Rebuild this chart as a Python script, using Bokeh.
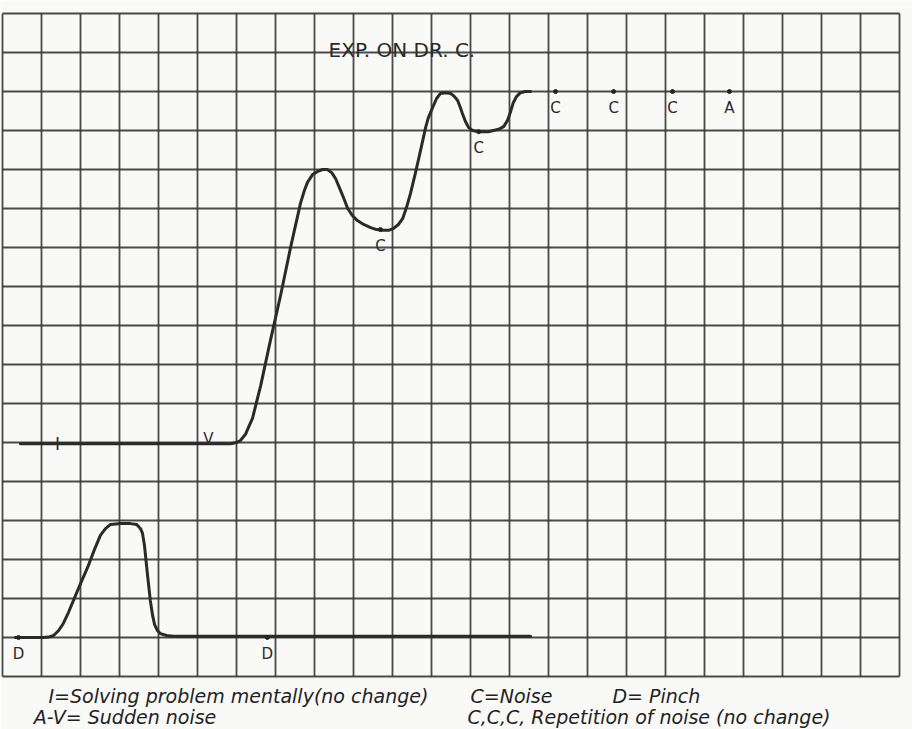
from bokeh.plotting import figure
from bokeh.models import ColumnDataSource, Range1d
from bokeh.core.properties import value
from bokeh.embed import file_html
from bokeh.resources import INLINE

# ---------------- data (grid units: 1 unit = one square of the graph paper) -------------
n_cols = 23
n_rows = 17

# upper record: I (solving problem), A-V (sudden noise), C dips, C,C,C repetitions
upper_x = [0.46, 5.85, 6.00, 6.10, 6.23, 6.33, 6.41, 6.62, 6.87, 7.13, 7.38, 7.64, 7.74,
           7.82, 7.95, 8.08, 8.21, 8.33, 8.44, 8.54, 8.67, 8.77, 8.85, 8.97, 9.10, 9.26,
           9.44, 9.59, 9.74, 9.90, 10.03, 10.15, 10.26, 10.36, 10.46, 10.59, 10.72, 10.85,
           10.92, 11.03, 11.13, 11.23, 11.36, 11.49, 11.59, 11.67, 11.74, 11.79, 11.87,
           11.95, 12.05, 12.21, 12.46, 12.72, 12.85, 12.95, 13.03, 13.10, 13.18, 13.28,
           13.41, 13.54]
upper_y = [5.97, 5.97, 6.00, 6.05, 6.21, 6.44, 6.62, 7.46, 8.62, 9.77, 10.97, 12.13, 12.46,
           12.67, 12.87, 12.95, 13.00, 13.00, 12.92, 12.77, 12.46, 12.21, 12.00, 11.82,
           11.69, 11.59, 11.51, 11.46, 11.44, 11.44, 11.49, 11.59, 11.74, 12.03, 12.38,
           12.92, 13.49, 14.08, 14.33, 14.59, 14.82, 14.95, 14.97, 14.95, 14.87, 14.77,
           14.59, 14.44, 14.23, 14.08, 14.00, 13.97, 13.97, 14.03, 14.10, 14.26, 14.49,
           14.72, 14.87, 14.97, 15.00, 15.00]

# lower record: D (pinch)
lower_x = [0.33, 1.05, 1.18, 1.31, 1.44, 1.56, 1.69, 1.82, 2.00, 2.18, 2.36, 2.51, 2.64,
           2.77, 3.03, 3.28, 3.44, 3.54, 3.59, 3.64, 3.72, 3.79, 3.85, 3.90, 3.97, 4.05,
           4.21, 4.38, 13.54]
lower_y = [1.00, 1.00, 1.01, 1.05, 1.18, 1.36, 1.64, 1.95, 2.38, 2.79, 3.26, 3.62, 3.79,
           3.90, 3.92, 3.92, 3.90, 3.79, 3.67, 3.36, 2.59, 1.95, 1.56, 1.33, 1.18, 1.10,
           1.05, 1.03, 1.03]

# marked stimulus points
event_x = [9.69, 12.21, 14.18, 15.67, 17.18, 18.64]
event_y = [11.46, 13.97, 15.00, 15.00, 15.00, 15.00]
event_label = ["C", "C", "C", "C", "C", "A"]

pinch_x = [0.41, 6.79]
pinch_y = [1.00, 1.00]
pinch_label = ["D", "D"]

title_text = "EXP. ON DR. C."
legend_lines = [
    "I=Solving problem mentally(no change)",
    "A-V= Sudden noise",
    "C=Noise",
    "D= Pinch",
    "C,C,C, Repetition of noise (no change)",
]

# ---------------- figure -------------
W, H = 912, 729
sx = 39.0   # px per unit horizontally
sy = 39.0   # px per unit vertically
x0 = -2.0 / sx
y1 = n_rows + 13.0 / sy

paper = "#f9f9f7"
ink = "#363636"

p = figure(width=W, height=H, output_backend="svg", toolbar_location=None,
           x_range=Range1d(x0, x0 + W / sx), y_range=Range1d(y1 - H / sy, y1),
           min_border=0, min_border_left=0, min_border_right=0,
           min_border_top=0, min_border_bottom=0,
           x_axis_location=None, y_axis_location=None)
p.background_fill_color = paper
p.border_fill_color = paper
p.outline_line_color = None
p.xgrid.visible = False
p.ygrid.visible = False

# graph paper
vx = list(range(n_cols + 1))
p.segment(x0=vx, y0=[0] * len(vx), x1=vx, y1=[n_rows] * len(vx),
          line_color=ink, line_width=1.8, line_alpha=0.9)
hy = list(range(n_rows + 1))
p.segment(x0=[0] * len(hy), y0=hy, x1=[n_cols] * len(hy), y1=hy,
          line_color=ink, line_width=1.8, line_alpha=0.9)

# records
p.line(upper_x, upper_y, line_color="#2a2a2a", line_width=3, line_join="round", line_cap="round")
p.line(lower_x, lower_y, line_color="#2a2a2a", line_width=3, line_join="round", line_cap="round")

# event marks
src_e = ColumnDataSource(dict(x=event_x, y=event_y, ly=[v - 0.2 for v in event_y], t=event_label))
p.scatter("x", "y", source=src_e, size=4, color="#222222")
p.text("x", "ly", text="t", source=src_e, text_font=value("DejaVu Sans"),
       text_font_size="15px", text_align="center", text_baseline="top", text_color="#2a2a2a")

src_d = ColumnDataSource(dict(x=pinch_x, y=pinch_y, ly=[v - 0.2 for v in pinch_y], t=pinch_label))
p.scatter("x", "y", source=src_d, size=4, color="#222222")
p.text("x", "ly", text="t", source=src_d, text_font=value("DejaVu Sans"),
       text_font_size="15px", text_align="center", text_baseline="top", text_color="#2a2a2a")

# I and V marks on the upper record
p.text(x=[1.41], y=[5.97], text=["I"], text_font=value("DejaVu Sans"), text_font_size="17px",
       text_align="center", text_baseline="middle", text_color="#2a2a2a")
p.text(x=[5.28], y=[6.1], text=["V"], text_font=value("DejaVu Sans"), text_font_size="15px",
       text_align="center", text_baseline="alphabetic", text_color="#2a2a2a")

# title
p.text(x=[8.36], y=[16.06], text=[title_text], text_font=value("DejaVu Sans"),
       text_font_size="20px", text_align="left", text_baseline="alphabetic", text_color="#2a2a2a")

# legend text below the graph
leg_x = [1.18, 0.80, 12.0, 15.64, 11.92]
leg_y = [-0.49, -1.03, -0.49, -0.49, -1.03]
p.text(x=leg_x, y=leg_y, text=legend_lines, text_font=value("DejaVu Sans"),
       text_font_size="19px", text_font_style="italic", text_align="left",
       text_baseline="alphabetic", text_color="#222222")

open("out.html", "w").write(file_html(p, INLINE))
